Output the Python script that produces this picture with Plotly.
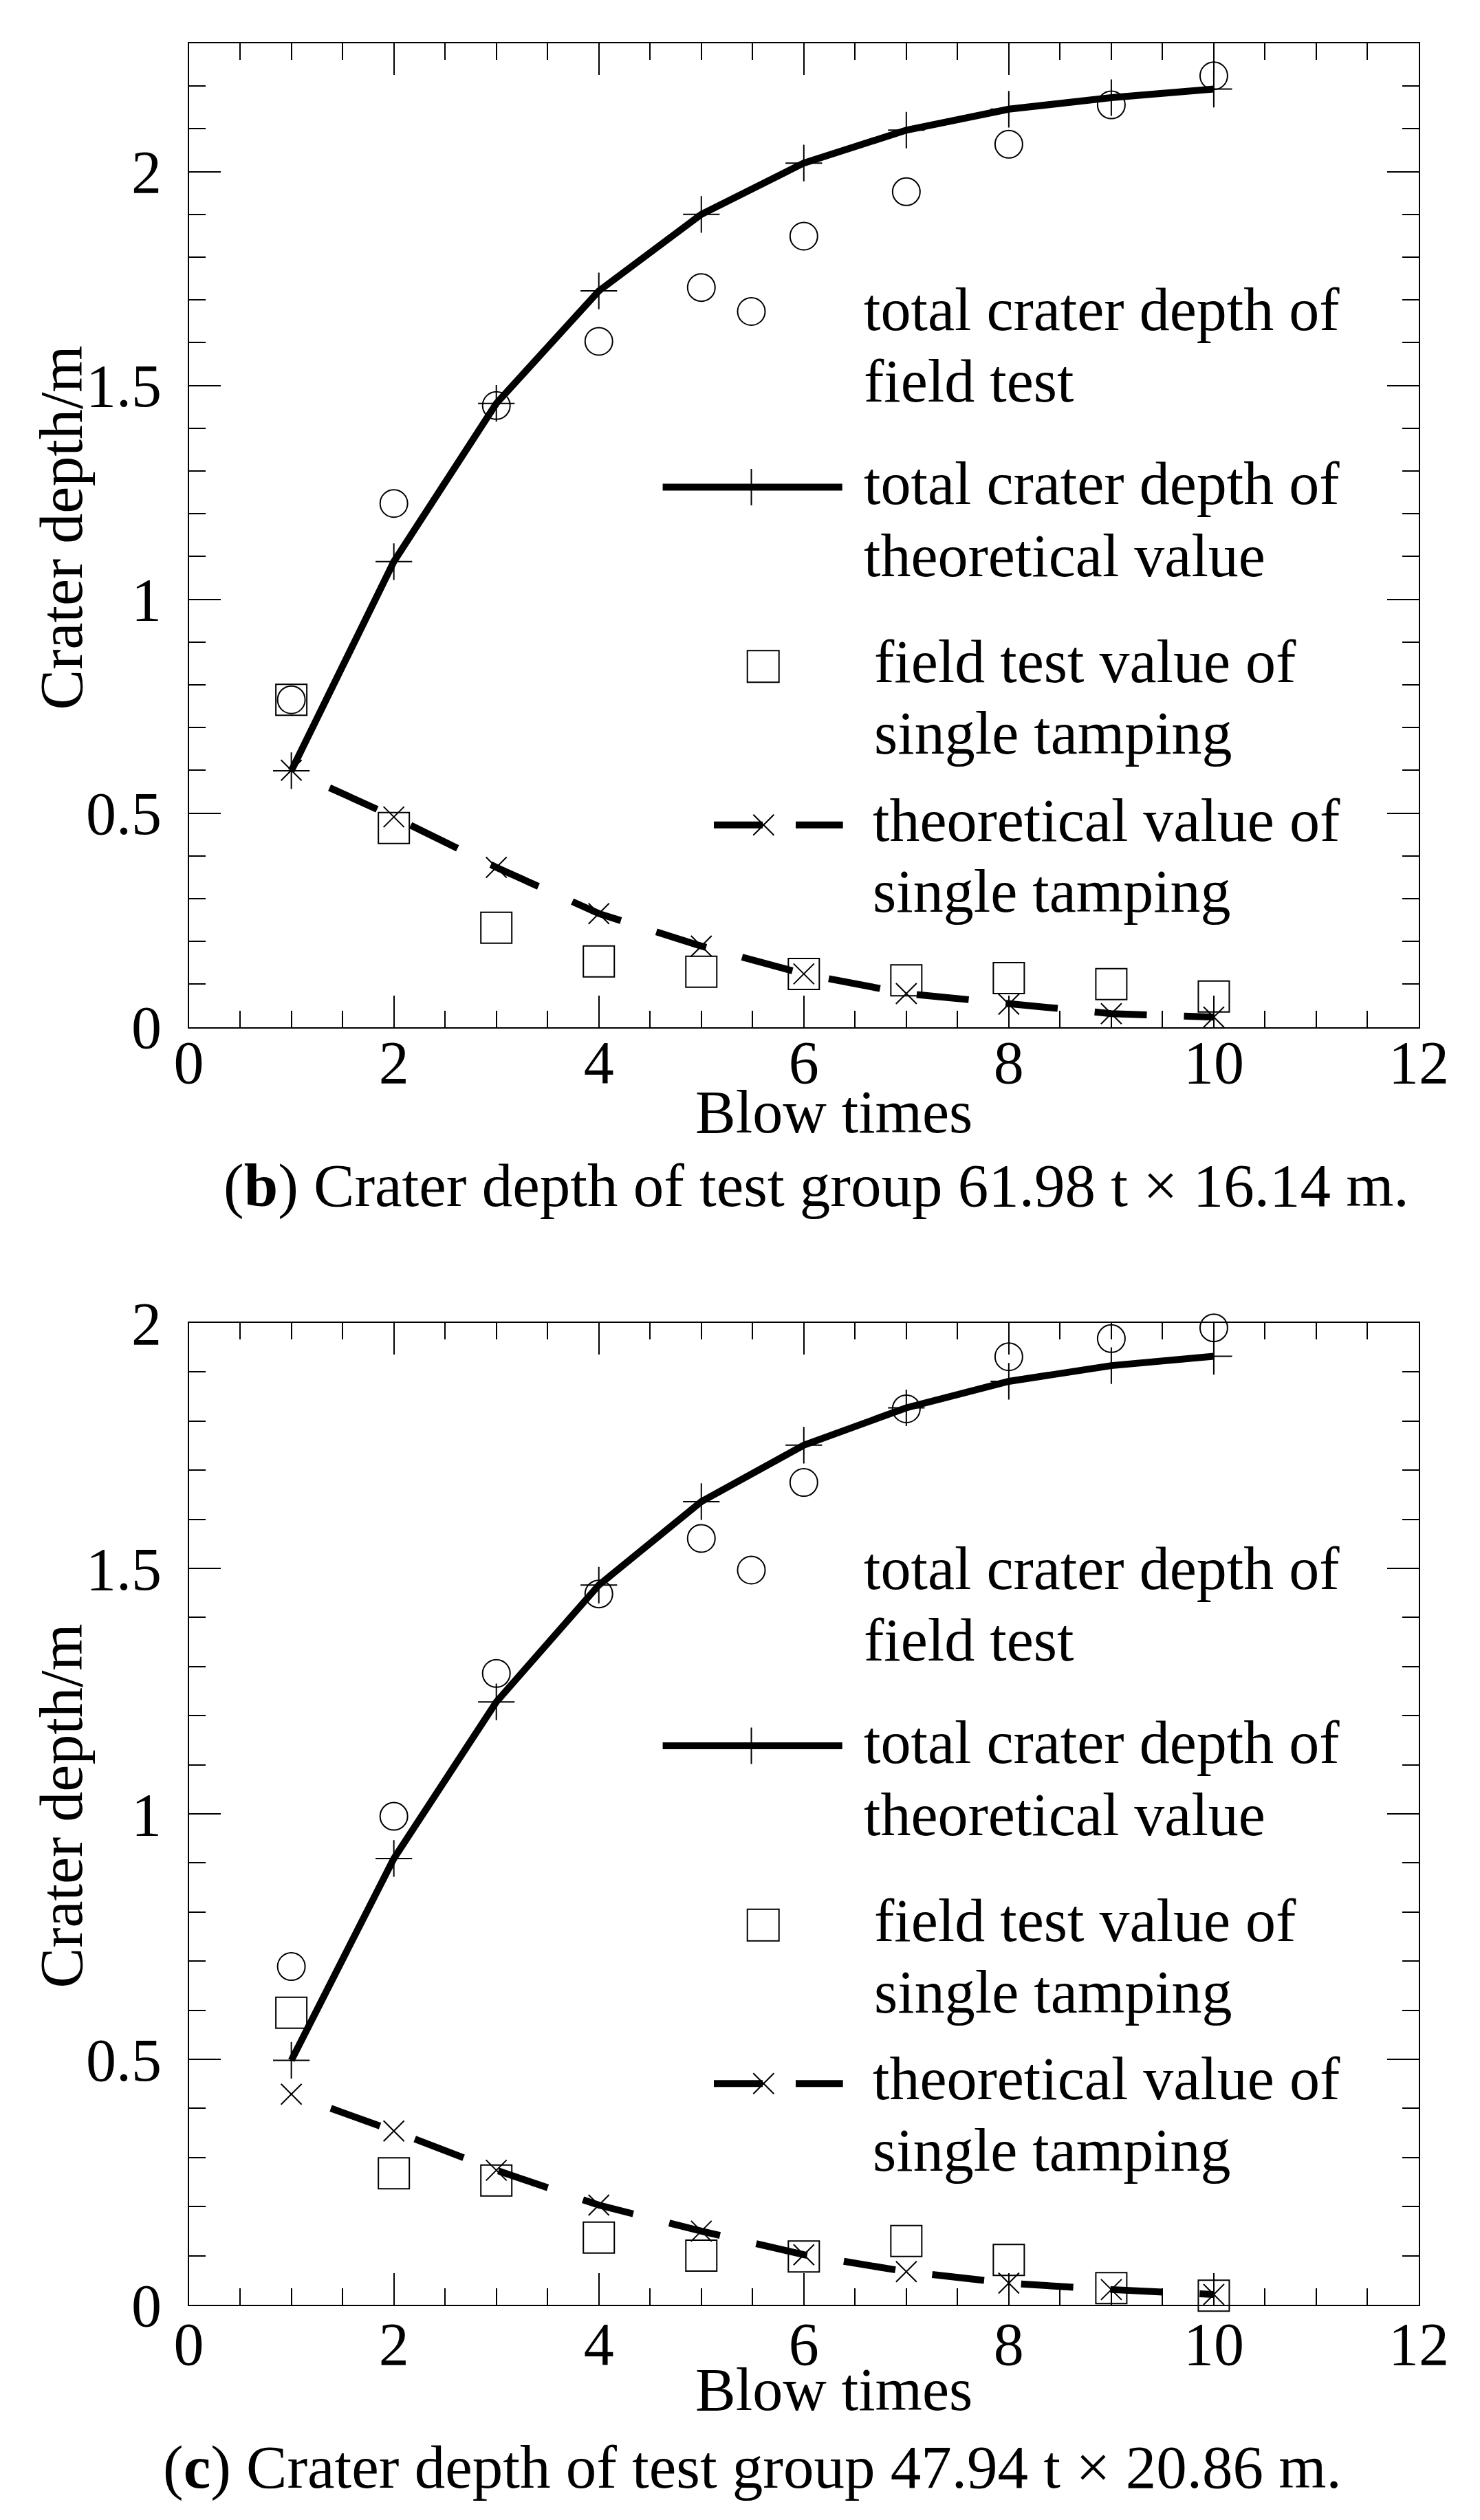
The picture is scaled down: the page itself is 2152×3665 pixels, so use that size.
import plotly.graph_objects as go

# ---------------- data ----------------
blows = [1, 2, 3, 4, 5, 6, 7, 8, 9, 10]

# (b) 61.98 t x 16.14 m
b_field_total = [0.765, 1.224, 1.453, 1.603, 1.729, 1.849, 1.953, 2.064, 2.156, 2.224]
b_theory_total = [0.599, 1.088, 1.458, 1.721, 1.900, 2.020, 2.097, 2.146, 2.173, 2.193]
b_field_single = [0.765, 0.465, 0.232, 0.153, 0.129, 0.124, 0.109, 0.114, 0.100, 0.071]
b_theory_single = [0.600, 0.491, 0.373, 0.265, 0.189, 0.124, 0.078, 0.053, 0.031, 0.023]

# (c) 47.94 t x 20.86 m
c_field_total = [0.689, 0.995, 1.286, 1.448, 1.561, 1.675, 1.825, 1.931, 1.968, 1.990]
c_theory_total = [0.498, 0.909, 1.228, 1.466, 1.636, 1.751, 1.827, 1.881, 1.913, 1.932]
c_field_single = [0.595, 0.268, 0.253, 0.137, 0.100, 0.0985, 0.130, 0.0915, 0.034, 0.0185]
c_theory_single = [0.429, 0.354, 0.274, 0.203, 0.150, 0.102, 0.0675, 0.044, 0.031, 0.021]

legend_labels = [
    ["total crater depth of", "field test"],
    ["total crater depth of", "theoretical value"],
    ["field test value of", "single tamping"],
    ["theoretical value of", "single tamping"],
]
x_title = "Blow times"
y_title = "Crater depth/m"
caption_b = "(<b>b</b>) Crater depth of test group 61.98 t × 16.14 m."
caption_c = "(<b>c</b>) Crater depth of test group 47.94 t × 20.86 m."

# ---------------- layout geometry (px) ----------------
W, H = 2152, 3665
PX_L, PX_R = 266.6, 2055.0
PANELS = {
    "b": dict(top=55.0, bot=1485.5, ymax=2.3, xa="x", ya="y", lxa="x3", lya="y3", txa="x5",
              leg_dy=0.0, xt_base=1646, cap_base=1753, cap_x=1179, ytitle_c=759.5, lab_up=8),
    "c": dict(top=1916.0, bot=3344.0, ymax=2.0, xa="x2", ya="y2", lxa="x4", lya="y4", txa="x6",
              leg_dy=1830.5, xt_base=3504, cap_base=3617, cap_x=1086, ytitle_c=2618.5, lab_up=2),
}
FONT = "Liberation Serif, Times New Roman, serif"
FS = 88
LW = 10
MID = 37          # baseline -> text-box middle offset (px)
PLUS_SIZE = 38
X_SIZE = 30
DASH_DATA = "0px,61px," + ",".join(["76px,54px"] * 12)

def ydom(p):
    return [1 - p["bot"] / H, 1 - p["top"] / H]

def px2paper_y(y):
    return 1 - y / H

fig = go.Figure()

def mk(symbol, size):
    return dict(symbol=symbol, size=size, color="black", line=dict(color="black", width=2))

def add_panel(key, ft, tt, fs, ts):
    p = PANELS[key]
    xa, ya = p["xa"], p["ya"]
    fig.add_trace(go.Scatter(x=blows, y=ts, mode="lines+markers", xaxis=xa, yaxis=ya,
                             line=dict(color="black", width=LW, dash=DASH_DATA),
                             marker=mk("x-thin-open", X_SIZE), showlegend=False, cliponaxis=False))
    fig.add_trace(go.Scatter(x=blows, y=tt, mode="lines+markers", xaxis=xa, yaxis=ya,
                             line=dict(color="black", width=LW),
                             marker=mk("cross-thin-open", PLUS_SIZE), showlegend=False, cliponaxis=False))
    fig.add_trace(go.Scatter(x=blows, y=fs, mode="markers", xaxis=xa, yaxis=ya,
                             marker=mk("square-open", 45), showlegend=False, cliponaxis=False))
    fig.add_trace(go.Scatter(x=blows, y=ft, mode="markers", xaxis=xa, yaxis=ya,
                             marker=mk("circle-open", 40), showlegend=False, cliponaxis=False))
    # empty trace so the tick-mark overlay axis is attached to this subplot
    fig.add_trace(go.Scatter(x=[None], y=[None], xaxis=p["txa"], yaxis=ya, showlegend=False,
                             hoverinfo="skip"))

    # ----- legend drawn on a pixel overlay axis -----
    lxa, lya = p["lxa"], p["lya"]
    d = p["leg_dy"]
    fig.add_trace(go.Scatter(x=[1084.5], y=[445 + d], mode="markers", xaxis=lxa, yaxis=lya,
                             marker=mk("circle-open", 40), showlegend=False, cliponaxis=False))
    fig.add_trace(go.Scatter(x=[955.6, 1216.7], y=[700.5 + d] * 2, mode="lines", xaxis=lxa, yaxis=lya,
                             line=dict(color="black", width=LW), showlegend=False, cliponaxis=False))
    fig.add_trace(go.Scatter(x=[1084.5], y=[700.5 + d], mode="markers", xaxis=lxa, yaxis=lya,
                             marker=mk("cross-thin-open", PLUS_SIZE), showlegend=False, cliponaxis=False))
    fig.add_trace(go.Scatter(x=[1101.7], y=[961.3 + d], mode="markers", xaxis=lxa, yaxis=lya,
                             marker=mk("square-open", 46), showlegend=False, cliponaxis=False))
    fig.add_trace(go.Scatter(x=[1030, 1217.7], y=[1191.7 + d] * 2, mode="lines", xaxis=lxa, yaxis=lya,
                             line=dict(color="black", width=LW, dash="71px,48px,80px"),
                             showlegend=False, cliponaxis=False))
    fig.add_trace(go.Scatter(x=[1102.3], y=[1191.7 + d], mode="markers", xaxis=lxa, yaxis=lya,
                             marker=mk("x-thin-open", X_SIZE), showlegend=False, cliponaxis=False))

    text_x = [1246, 1246, 1261, 1259]
    bases = [(479.6, 584.0), (733.0, 838.0), (991.6, 1096.0), (1222.4, 1325.7)]
    for lbl, tx, bb in zip(legend_labels, text_x, bases):
        for line, base in zip(lbl, bb):
            fig.add_annotation(x=tx, y=base - MID + d, xref=lxa, yref=lya, text=line,
                               showarrow=False, xanchor="left", yanchor="middle",
                               font=dict(family=FONT, size=FS, color="black"))

    fig.add_annotation(x=1204 / W, y=px2paper_y(p["xt_base"] - MID), xref="paper", yref="paper",
                       text=x_title, showarrow=False, xanchor="center", yanchor="middle",
                       font=dict(family=FONT, size=FS, color="black"))
    fig.add_annotation(x=81 / W, y=px2paper_y(p["ytitle_c"]), xref="paper", yref="paper",
                       text=y_title, textangle=-90, showarrow=False, xanchor="center", yanchor="middle",
                       font=dict(family=FONT, size=FS, color="black"))


add_panel("b", b_field_total, b_theory_total, b_field_single, b_theory_single)
add_panel("c", c_field_total, c_theory_total, c_field_single, c_theory_single)

for key, cap in (("b", caption_b), ("c", caption_c)):
    p = PANELS[key]
    fig.add_annotation(x=p["cap_x"] / W, y=px2paper_y(p["cap_base"] - MID),
                       xref="paper", yref="paper", text=cap, showarrow=False,
                       xanchor="center", yanchor="middle",
                       font=dict(family=FONT, size=89, color="black"))

xdom = [PX_L / W, PX_R / W]

def label_x(p):
    # main x axis: tick labels only
    return dict(domain=xdom, anchor="free", position=px2paper_y(p["bot"] - p["lab_up"]),
                range=[0, 12], dtick=2, tick0=0, ticks="", showline=False, mirror=False,
                showgrid=False, zeroline=False, automargin=False,
                tickfont=dict(family=FONT, size=FS, color="black"), ticklabelstandoff=0)

# overlay x axes: frame line + tick marks (inside, mirrored)
tick_x = dict(range=[0, 12], dtick=2, tick0=0, ticks="inside", ticklen=46, tickwidth=2,
              tickcolor="black", showline=True, linewidth=2, linecolor="black", mirror="ticks",
              showticklabels=False, showgrid=False, zeroline=False, automargin=False,
              minor=dict(dtick=0.5, ticks="inside", ticklen=24, tickwidth=2, tickcolor="black",
                         showgrid=False))
common_y = dict(dtick=0.5, tick0=0, ticks="inside", ticklen=46, tickwidth=2,
                tickcolor="black", showline=True, linewidth=2, linecolor="black", mirror="ticks",
                showgrid=False, zeroline=False, automargin=False,
                minor=dict(dtick=0.1, ticks="inside", ticklen=24, tickwidth=2, tickcolor="black",
                           showgrid=False),
                tickfont=dict(family=FONT, size=FS, color="black"), ticklabelstandoff=20)
hidden = dict(visible=False, automargin=False, showgrid=False, zeroline=False)

pb, pc = PANELS["b"], PANELS["c"]
fig.update_layout(
    template="none",
    width=W, height=H, autosize=False,
    margin=dict(l=0, r=0, t=0, b=0, pad=0),
    paper_bgcolor="white", plot_bgcolor="white",
    showlegend=False,
    xaxis=label_x(pb),
    yaxis=dict(domain=ydom(pb), anchor="x5", range=[0, pb["ymax"]], **common_y),
    xaxis2=label_x(pc),
    yaxis2=dict(domain=ydom(pc), anchor="x6", range=[0, pc["ymax"]], **common_y),
    xaxis3=dict(overlaying="x", anchor="y3", range=[PX_L, PX_R], **hidden),
    yaxis3=dict(overlaying="y", anchor="x3", range=[pb["bot"], pb["top"]], **hidden),
    xaxis4=dict(overlaying="x2", anchor="y4", range=[PX_L, PX_R], **hidden),
    yaxis4=dict(overlaying="y2", anchor="x4", range=[pc["bot"], pc["top"]], **hidden),
    xaxis5=dict(overlaying="x", anchor="y", **tick_x),
    xaxis6=dict(overlaying="x2", anchor="y2", **tick_x),
)

fig.write_html("out.html")
